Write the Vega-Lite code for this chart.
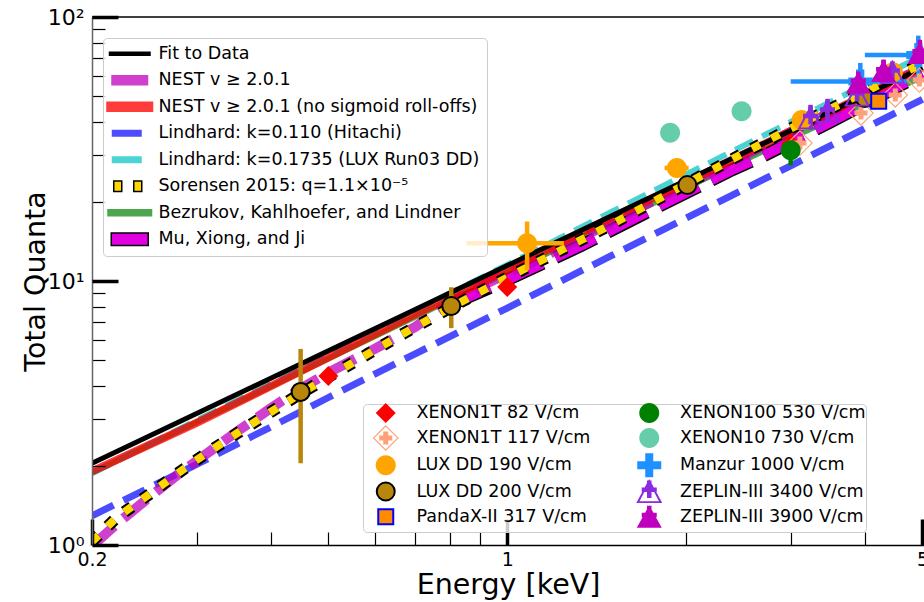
{
  "$schema": "https://vega.github.io/schema/vega-lite/v6.json",
  "width": 832,
  "height": 528,
  "autosize": {"type": "none"},
  "padding": {"left": 92, "top": 17, "right": 0, "bottom": 57},
  "background": "white",
  "config": {"font": "DejaVu Sans", "view": {"stroke": null}},
  "datasets": {
    "curves": [
      {"series": "Fit to Data", "E": 0.2, "Q": 2.04}, {"series": "Fit to Data", "E": 0.3, "Q": 3.15}, {"series": "Fit to Data", "E": 0.5, "Q": 5.44}, {"series": "Fit to Data", "E": 0.7, "Q": 7.8}, {"series": "Fit to Data", "E": 1, "Q": 11.44}, {"series": "Fit to Data", "E": 1.5, "Q": 17.67}, {"series": "Fit to Data", "E": 2, "Q": 24.05}, {"series": "Fit to Data", "E": 3, "Q": 37.1}, {"series": "Fit to Data", "E": 4, "Q": 50.6}, {"series": "Fit to Data", "E": 5, "Q": 64.2},
      {"series": "NEST v ≥ 2.0.1 (no sigmoid roll-offs)", "E": 0.2, "Q": 1.9}, {"series": "NEST v ≥ 2.0.1 (no sigmoid roll-offs)", "E": 0.3, "Q": 2.9}, {"series": "NEST v ≥ 2.0.1 (no sigmoid roll-offs)", "E": 0.5, "Q": 5.13}, {"series": "NEST v ≥ 2.0.1 (no sigmoid roll-offs)", "E": 0.7, "Q": 7.48}, {"series": "NEST v ≥ 2.0.1 (no sigmoid roll-offs)", "E": 1, "Q": 11.0}, {"series": "NEST v ≥ 2.0.1 (no sigmoid roll-offs)", "E": 1.5, "Q": 17.4}, {"series": "NEST v ≥ 2.0.1 (no sigmoid roll-offs)", "E": 2, "Q": 23.6}, {"series": "NEST v ≥ 2.0.1 (no sigmoid roll-offs)", "E": 3, "Q": 37.0}, {"series": "NEST v ≥ 2.0.1 (no sigmoid roll-offs)", "E": 4, "Q": 50.5}, {"series": "NEST v ≥ 2.0.1 (no sigmoid roll-offs)", "E": 5, "Q": 64.4},
      {"series": "NEST v ≥ 2.0.1", "E": 0.2, "Q": 0.99}, {"series": "NEST v ≥ 2.0.1", "E": 0.22, "Q": 1.2}, {"series": "NEST v ≥ 2.0.1", "E": 0.25, "Q": 1.52}, {"series": "NEST v ≥ 2.0.1", "E": 0.28, "Q": 1.86}, {"series": "NEST v ≥ 2.0.1", "E": 0.3, "Q": 2.08}, {"series": "NEST v ≥ 2.0.1", "E": 0.35, "Q": 2.68}, {"series": "NEST v ≥ 2.0.1", "E": 0.4, "Q": 3.3}, {"series": "NEST v ≥ 2.0.1", "E": 0.45, "Q": 3.92}, {"series": "NEST v ≥ 2.0.1", "E": 0.5, "Q": 4.5}, {"series": "NEST v ≥ 2.0.1", "E": 0.6, "Q": 5.55}, {"series": "NEST v ≥ 2.0.1", "E": 0.7, "Q": 6.7}, {"series": "NEST v ≥ 2.0.1", "E": 0.8, "Q": 8.25}, {"series": "NEST v ≥ 2.0.1", "E": 0.9, "Q": 9.5}, {"series": "NEST v ≥ 2.0.1", "E": 1, "Q": 10.7}, {"series": "NEST v ≥ 2.0.1", "E": 1.25, "Q": 13.5}, {"series": "NEST v ≥ 2.0.1", "E": 1.5, "Q": 16.8}, {"series": "NEST v ≥ 2.0.1", "E": 2, "Q": 23.2}, {"series": "NEST v ≥ 2.0.1", "E": 3, "Q": 36.7}, {"series": "NEST v ≥ 2.0.1", "E": 4, "Q": 50.3}, {"series": "NEST v ≥ 2.0.1", "E": 5, "Q": 64.3},
      {"series": "Lindhard: k=0.110 (Hitachi)", "E": 0.2, "Q": 1.29}, {"series": "Lindhard: k=0.110 (Hitachi)", "E": 0.3, "Q": 2.02}, {"series": "Lindhard: k=0.110 (Hitachi)", "E": 0.4, "Q": 2.8}, {"series": "Lindhard: k=0.110 (Hitachi)", "E": 0.5, "Q": 3.62}, {"series": "Lindhard: k=0.110 (Hitachi)", "E": 0.7, "Q": 5.3}, {"series": "Lindhard: k=0.110 (Hitachi)", "E": 1, "Q": 7.9}, {"series": "Lindhard: k=0.110 (Hitachi)", "E": 1.5, "Q": 12.5}, {"series": "Lindhard: k=0.110 (Hitachi)", "E": 2, "Q": 17.3}, {"series": "Lindhard: k=0.110 (Hitachi)", "E": 3, "Q": 27.3}, {"series": "Lindhard: k=0.110 (Hitachi)", "E": 4, "Q": 37.9}, {"series": "Lindhard: k=0.110 (Hitachi)", "E": 5, "Q": 48.8},
      {"series": "Lindhard: k=0.1735 (LUX Run03 DD)", "E": 0.2, "Q": 1.87}, {"series": "Lindhard: k=0.1735 (LUX Run03 DD)", "E": 0.3, "Q": 2.96}, {"series": "Lindhard: k=0.1735 (LUX Run03 DD)", "E": 0.5, "Q": 5.27}, {"series": "Lindhard: k=0.1735 (LUX Run03 DD)", "E": 0.7, "Q": 7.72}, {"series": "Lindhard: k=0.1735 (LUX Run03 DD)", "E": 1, "Q": 11.5}, {"series": "Lindhard: k=0.1735 (LUX Run03 DD)", "E": 1.5, "Q": 18.3}, {"series": "Lindhard: k=0.1735 (LUX Run03 DD)", "E": 2, "Q": 25.3}, {"series": "Lindhard: k=0.1735 (LUX Run03 DD)", "E": 3, "Q": 40.0}, {"series": "Lindhard: k=0.1735 (LUX Run03 DD)", "E": 4, "Q": 55.4}, {"series": "Lindhard: k=0.1735 (LUX Run03 DD)", "E": 5, "Q": 71.3},
      {"series": "Sorensen 2015: q=1.1×10⁻⁵", "E": 0.2, "Q": 1.03}, {"series": "Sorensen 2015: q=1.1×10⁻⁵", "E": 0.22, "Q": 1.27}, {"series": "Sorensen 2015: q=1.1×10⁻⁵", "E": 0.25, "Q": 1.56}, {"series": "Sorensen 2015: q=1.1×10⁻⁵", "E": 0.28, "Q": 1.88}, {"series": "Sorensen 2015: q=1.1×10⁻⁵", "E": 0.3, "Q": 2.1}, {"series": "Sorensen 2015: q=1.1×10⁻⁵", "E": 0.35, "Q": 2.64}, {"series": "Sorensen 2015: q=1.1×10⁻⁵", "E": 0.4, "Q": 3.19}, {"series": "Sorensen 2015: q=1.1×10⁻⁵", "E": 0.45, "Q": 3.76}, {"series": "Sorensen 2015: q=1.1×10⁻⁵", "E": 0.5, "Q": 4.33}, {"series": "Sorensen 2015: q=1.1×10⁻⁵", "E": 0.6, "Q": 5.5}, {"series": "Sorensen 2015: q=1.1×10⁻⁵", "E": 0.7, "Q": 6.7}, {"series": "Sorensen 2015: q=1.1×10⁻⁵", "E": 0.8, "Q": 7.9}, {"series": "Sorensen 2015: q=1.1×10⁻⁵", "E": 1, "Q": 10.3}, {"series": "Sorensen 2015: q=1.1×10⁻⁵", "E": 1.25, "Q": 13.3}, {"series": "Sorensen 2015: q=1.1×10⁻⁵", "E": 1.5, "Q": 16.4}, {"series": "Sorensen 2015: q=1.1×10⁻⁵", "E": 2, "Q": 23.3}, {"series": "Sorensen 2015: q=1.1×10⁻⁵", "E": 2.5, "Q": 30.5}, {"series": "Sorensen 2015: q=1.1×10⁻⁵", "E": 3, "Q": 37.8}, {"series": "Sorensen 2015: q=1.1×10⁻⁵", "E": 4, "Q": 52.0}, {"series": "Sorensen 2015: q=1.1×10⁻⁵", "E": 5, "Q": 66.8},
      {"series": "Bezrukov, Kahlhoefer, and Lindner", "E": 0.2, "Q": 1.88}, {"series": "Bezrukov, Kahlhoefer, and Lindner", "E": 0.5, "Q": 5.08}, {"series": "Bezrukov, Kahlhoefer, and Lindner", "E": 1, "Q": 10.8}, {"series": "Bezrukov, Kahlhoefer, and Lindner", "E": 2, "Q": 22.6}, {"series": "Bezrukov, Kahlhoefer, and Lindner", "E": 3, "Q": 34.8}, {"series": "Bezrukov, Kahlhoefer, and Lindner", "E": 4, "Q": 47.0}, {"series": "Bezrukov, Kahlhoefer, and Lindner", "E": 5, "Q": 59.5},
      {"series": "Mu, Xiong, and Ji", "E": 0.8, "Q": 8.1}, {"series": "Mu, Xiong, and Ji", "E": 1, "Q": 10.1}, {"series": "Mu, Xiong, and Ji", "E": 1.33, "Q": 13.6}, {"series": "Mu, Xiong, and Ji", "E": 1.7, "Q": 18.0}, {"series": "Mu, Xiong, and Ji", "E": 2.36, "Q": 26.0}, {"series": "Mu, Xiong, and Ji", "E": 2.7, "Q": 29.8}, {"series": "Mu, Xiong, and Ji", "E": 3.5, "Q": 40.0}, {"series": "Mu, Xiong, and Ji", "E": 4.36, "Q": 52.0}, {"series": "Mu, Xiong, and Ji", "E": 5, "Q": 61.0}
    ],
    "points": [
      {"dataset": "XENON1T 82 V/cm", "E": 0.5, "Q": 4.37},
      {"dataset": "XENON1T 82 V/cm", "E": 1.0, "Q": 9.49},
      {"dataset": "XENON1T 82 V/cm", "E": 3.0, "Q": 33.0},
      {"dataset": "XENON1T 117 V/cm", "E": 3.11, "Q": 33.3},
      {"dataset": "XENON1T 117 V/cm", "E": 3.94, "Q": 43.3},
      {"dataset": "XENON1T 117 V/cm", "E": 4.5, "Q": 50.7},
      {"dataset": "XENON1T 117 V/cm", "E": 4.94, "Q": 57.7},
      {"dataset": "LUX DD 190 V/cm", "E": 1.08, "Q": 13.9, "Elo": 0.854, "Ehi": 1.246, "Qlo": 11.0, "Qhi": 16.8},
      {"dataset": "LUX DD 190 V/cm", "E": 1.93, "Q": 26.8, "Elo": 1.84, "Ehi": 2.02},
      {"dataset": "LUX DD 190 V/cm", "E": 3.13, "Q": 40.7},
      {"dataset": "LUX DD 190 V/cm", "E": 4.46, "Q": 61.8},
      {"dataset": "LUX DD 200 V/cm", "E": 0.449, "Q": 3.8, "Qlo": 2.04, "Qhi": 5.53},
      {"dataset": "LUX DD 200 V/cm", "E": 0.805, "Q": 8.04, "Qlo": 6.63, "Qhi": 9.47},
      {"dataset": "LUX DD 200 V/cm", "E": 2.01, "Q": 23.1},
      {"dataset": "LUX DD 200 V/cm", "E": 4.0, "Q": 49.3},
      {"dataset": "PandaX-II 317 V/cm", "E": 4.22, "Q": 48.0},
      {"dataset": "XENON100 530 V/cm", "E": 3.0, "Q": 31.3, "Qlo": 27.4, "Qhi": 35.7},
      {"dataset": "XENON10 730 V/cm", "E": 1.88, "Q": 36.4},
      {"dataset": "XENON10 730 V/cm", "E": 2.48, "Q": 44.0},
      {"dataset": "Manzur 1000 V/cm", "E": 3.93, "Q": 57.0, "Elo": 3.0, "Ehi": 4.7, "Qlo": 48.0, "Qhi": 67.0},
      {"dataset": "Manzur 1000 V/cm", "E": 4.92, "Q": 71.8, "Elo": 4.0, "Ehi": 6.0, "Qlo": 56.0, "Qhi": 85.0},
      {"dataset": "ZEPLIN-III 3400 V/cm", "E": 3.24, "Q": 41.5, "Qlo": 37.5, "Qhi": 46.5},
      {"dataset": "ZEPLIN-III 3400 V/cm", "E": 3.46, "Q": 44.0, "Qlo": 40.0, "Qhi": 49.0},
      {"dataset": "ZEPLIN-III 3400 V/cm", "E": 3.88, "Q": 50.7},
      {"dataset": "ZEPLIN-III 3400 V/cm", "E": 4.45, "Q": 61.8},
      {"dataset": "ZEPLIN-III 3900 V/cm", "E": 3.9, "Q": 56.5, "Qlo": 50.0, "Qhi": 63.0},
      {"dataset": "ZEPLIN-III 3900 V/cm", "E": 4.3, "Q": 62.5, "Qlo": 56.0, "Qhi": 69.0},
      {"dataset": "ZEPLIN-III 3900 V/cm", "E": 4.95, "Q": 73.0, "Qlo": 65.0, "Qhi": 82.0}
    ]
  },
  "layer": [
    {
      "data": {"name": "curves"},
      "transform": [{"filter": {"field": "series", "equal": "Bezrukov, Kahlhoefer, and Lindner"}}],
      "mark": {"type": "line", "clip": true, "color": "#008000", "opacity": 0.7, "strokeWidth": 6},
      "encoding": {
        "x": {"field": "E", "type": "quantitative", "scale": {"type": "log", "domain": [0.2, 5.03], "nice": false},
          "axis": {
            "orient": "bottom",
            "values": [0.3, 0.4, 0.5, 0.6, 0.7, 0.8, 0.9, 2, 3, 4],
            "labels": false,
            "tickSize": -13, "tickWidth": 1.2, "tickColor": "black",
            "domainColor": "black", "domainWidth": 1.5, "grid": false,
            "title": "Energy [keV]", "titleFontSize": 28.5, "titleFontWeight": "normal", "titleColor": "black", "titlePadding": 25,
            "zindex": 1
          }},
        "y": {"field": "Q", "type": "quantitative", "scale": {"type": "log", "domain": [1, 100], "nice": false},
          "axis": {
            "orient": "left",
            "values": [2, 3, 4, 5, 6, 7, 8, 9, 20, 30, 40, 50, 60, 70, 80, 90],
            "labels": false,
            "tickSize": -13, "tickWidth": 1.2, "tickColor": "black",
            "domainColor": "#666666", "domainWidth": 1.5, "grid": false,
            "title": "Total Quanta", "titleFontSize": 28.5, "titleFontWeight": "normal", "titleColor": "black", "titlePadding": 41,
            "zindex": 1
          }}
      }
    },
    {
      "data": {"name": "curves"},
      "transform": [{"filter": {"field": "series", "equal": "Lindhard: k=0.110 (Hitachi)"}}],
      "mark": {"type": "line", "clip": true, "color": "#0000ff", "opacity": 0.7, "strokeWidth": 7, "strokeDash": [24, 11]},
      "encoding": {
        "x": {"field": "E", "type": "quantitative", "scale": {"type": "log", "domain": [0.2, 5.03], "nice": false},
          "axis": {
            "orient": "bottom",
            "values": [0.2, 1, 5],
            "labelExpr": "datum.value == 0.2 ? '0.2' : datum.value == 1 ? '1' : '5'",
            "tickSize": -26, "tickWidth": 3.5, "tickColor": "black",
            "labelPadding": 31, "labelFontSize": 19, "labelColor": "black", "labelFlush": false, "labelOverlap": false,
            "domain": false, "grid": false, "title": null,
            "zindex": 1
          }},
        "y": {"field": "Q", "type": "quantitative", "scale": {"type": "log", "domain": [1, 100], "nice": false},
          "axis": {
            "orient": "left",
            "values": [1, 10, 100],
            "labelExpr": "datum.value == 100 ? '10²' : datum.value == 10 ? '10¹' : '10⁰'",
            "tickSize": -26, "tickWidth": 3.5, "tickColor": "black",
            "labelPadding": 34, "labelFontSize": 22, "labelColor": "black", "labelFlush": false, "labelOverlap": false,
            "domain": false, "grid": false, "title": null,
            "zindex": 1
          }}
      }
    },
    {
      "data": {"name": "curves"},
      "transform": [{"filter": {"field": "series", "equal": "Lindhard: k=0.1735 (LUX Run03 DD)"}}],
      "mark": {"type": "line", "clip": true, "color": "#00bfbf", "opacity": 0.7, "strokeWidth": 6, "strokeDash": [20, 10]},
      "encoding": {
        "x": {"field": "E", "type": "quantitative", "scale": {"type": "log", "domain": [0.2, 5.03], "nice": false}, "axis": null},
        "y": {"field": "Q", "type": "quantitative", "scale": {"type": "log", "domain": [1, 100], "nice": false}, "axis": null}
      }
    },
    {
      "data": {"name": "curves"},
      "transform": [{"filter": {"field": "series", "equal": "Mu, Xiong, and Ji"}}],
      "mark": {"type": "line", "clip": true, "color": "#000000", "strokeWidth": 13, "strokeDash": [44, 14]},
      "encoding": {
        "x": {"field": "E", "type": "quantitative", "scale": {"type": "log", "domain": [0.2, 5.03], "nice": false}, "axis": null},
        "y": {"field": "Q", "type": "quantitative", "scale": {"type": "log", "domain": [1, 100], "nice": false}, "axis": null}
      }
    },
    {
      "data": {"name": "curves"},
      "transform": [{"filter": {"field": "series", "equal": "Mu, Xiong, and Ji"}}],
      "mark": {"type": "line", "clip": true, "color": "#e000e0", "strokeWidth": 10, "strokeDash": [44, 14]},
      "encoding": {
        "x": {"field": "E", "type": "quantitative", "scale": {"type": "log", "domain": [0.2, 5.03], "nice": false}, "axis": null},
        "y": {"field": "Q", "type": "quantitative", "scale": {"type": "log", "domain": [1, 100], "nice": false}, "axis": null}
      }
    },
    {
      "data": {"name": "curves"},
      "transform": [{"filter": {"field": "series", "equal": "NEST v ≥ 2.0.1"}}],
      "mark": {"type": "line", "clip": true, "color": "#bf00bf", "opacity": 0.75, "strokeWidth": 10, "strokeDash": [30, 12]},
      "encoding": {
        "x": {"field": "E", "type": "quantitative", "scale": {"type": "log", "domain": [0.2, 5.03], "nice": false}, "axis": null},
        "y": {"field": "Q", "type": "quantitative", "scale": {"type": "log", "domain": [1, 100], "nice": false}, "axis": null}
      }
    },
    {
      "data": {"name": "curves"},
      "transform": [{"filter": {"field": "series", "equal": "NEST v ≥ 2.0.1 (no sigmoid roll-offs)"}}],
      "mark": {"type": "line", "clip": true, "color": "#ff0000", "opacity": 0.77, "strokeWidth": 8},
      "encoding": {
        "x": {"field": "E", "type": "quantitative", "scale": {"type": "log", "domain": [0.2, 5.03], "nice": false}, "axis": null},
        "y": {"field": "Q", "type": "quantitative", "scale": {"type": "log", "domain": [1, 100], "nice": false}, "axis": null}
      }
    },
    {
      "data": {"name": "curves"},
      "transform": [{"filter": {"field": "series", "equal": "Fit to Data"}}],
      "mark": {"type": "line", "clip": true, "color": "#000000", "strokeWidth": 5},
      "encoding": {
        "x": {"field": "E", "type": "quantitative", "scale": {"type": "log", "domain": [0.2, 5.03], "nice": false}, "axis": null},
        "y": {"field": "Q", "type": "quantitative", "scale": {"type": "log", "domain": [1, 100], "nice": false}, "axis": null}
      }
    },
    {
      "data": {"name": "curves"},
      "transform": [{"filter": {"field": "series", "equal": "Sorensen 2015: q=1.1×10⁻⁵"}}],
      "mark": {"type": "line", "clip": true, "color": "#000000", "strokeWidth": 12, "strokeDash": [9, 13]},
      "encoding": {
        "x": {"field": "E", "type": "quantitative", "scale": {"type": "log", "domain": [0.2, 5.03], "nice": false}, "axis": null},
        "y": {"field": "Q", "type": "quantitative", "scale": {"type": "log", "domain": [1, 100], "nice": false}, "axis": null}
      }
    },
    {
      "data": {"name": "curves"},
      "transform": [{"filter": {"field": "series", "equal": "Sorensen 2015: q=1.1×10⁻⁵"}}],
      "mark": {"type": "line", "clip": true, "color": "#ffd700", "strokeWidth": 8, "strokeDash": [9, 13]},
      "encoding": {
        "x": {"field": "E", "type": "quantitative", "scale": {"type": "log", "domain": [0.2, 5.03], "nice": false}, "axis": null},
        "y": {"field": "Q", "type": "quantitative", "scale": {"type": "log", "domain": [1, 100], "nice": false}, "axis": null}
      }
    },
    {
      "data": {"values": [{"Q": 100}]},
      "mark": {"type": "rule", "color": "#000000", "strokeWidth": 1.5},
      "encoding": {
        "y": {"field": "Q", "type": "quantitative", "scale": {"type": "log", "domain": [1, 100], "nice": false}, "axis": null}
      }
    },
    {
      "data": {"name": "points"},
      "transform": [{"filter": "isValid(datum.Qlo)"}],
      "mark": {"type": "rule", "clip": true, "strokeWidth": 4.5},
      "encoding": {
        "x": {"field": "E", "type": "quantitative", "scale": {"type": "log", "domain": [0.2, 5.03], "nice": false}, "axis": null},
        "y": {"field": "Qlo", "type": "quantitative", "scale": {"type": "log", "domain": [1, 100], "nice": false}, "axis": null},
        "y2": {"field": "Qhi"},
        "color": {"field": "dataset", "type": "nominal", "legend": null,
          "scale": {"domain": ["XENON1T 82 V/cm", "XENON1T 117 V/cm", "LUX DD 190 V/cm", "LUX DD 200 V/cm", "PandaX-II 317 V/cm", "XENON100 530 V/cm", "XENON10 730 V/cm", "Manzur 1000 V/cm", "ZEPLIN-III 3400 V/cm", "ZEPLIN-III 3900 V/cm"],
                    "range": ["#ff0000", "#ffa07a", "#ffa500", "#b8860b", "#0000ff", "#008000", "#66cdaa", "#1e90ff", "#8a2be2", "#bf00bf"]}}
      }
    },
    {
      "data": {"name": "points"},
      "transform": [{"filter": "isValid(datum.Elo)"}],
      "mark": {"type": "rule", "clip": true, "strokeWidth": 4.5},
      "encoding": {
        "x": {"field": "Elo", "type": "quantitative", "scale": {"type": "log", "domain": [0.2, 5.03], "nice": false}, "axis": null},
        "x2": {"field": "Ehi"},
        "y": {"field": "Q", "type": "quantitative", "scale": {"type": "log", "domain": [1, 100], "nice": false}, "axis": null},
        "color": {"field": "dataset", "type": "nominal", "legend": null,
          "scale": {"domain": ["XENON1T 82 V/cm", "XENON1T 117 V/cm", "LUX DD 190 V/cm", "LUX DD 200 V/cm", "PandaX-II 317 V/cm", "XENON100 530 V/cm", "XENON10 730 V/cm", "Manzur 1000 V/cm", "ZEPLIN-III 3400 V/cm", "ZEPLIN-III 3900 V/cm"],
                    "range": ["#ff0000", "#ffa07a", "#ffa500", "#b8860b", "#0000ff", "#008000", "#66cdaa", "#1e90ff", "#8a2be2", "#bf00bf"]}}
      }
    },
    {
      "data": {"name": "points"},
      "mark": {"type": "point", "clip": true, "filled": true, "opacity": 1, "size": 100, "strokeWidth": 2},
      "encoding": {
        "x": {"field": "E", "type": "quantitative", "scale": {"type": "log", "domain": [0.2, 5.03], "nice": false}, "axis": null},
        "y": {"field": "Q", "type": "quantitative", "scale": {"type": "log", "domain": [1, 100], "nice": false}, "axis": null},
        "fill": {"field": "dataset", "type": "nominal",
          "scale": {"domain": ["XENON1T 82 V/cm", "XENON1T 117 V/cm", "LUX DD 190 V/cm", "LUX DD 200 V/cm", "PandaX-II 317 V/cm", "XENON100 530 V/cm", "XENON10 730 V/cm", "Manzur 1000 V/cm", "ZEPLIN-III 3400 V/cm", "ZEPLIN-III 3900 V/cm"],
                    "range": ["#ff0000", "#ffa07a", "#ffa500", "#b8860b", "#ff8c00", "#008000", "#66cdaa", "#1e90ff", "#8a2be2", "#bf00bf"]},
          "legend": {"orient": "none", "legendX": 271, "legendY": 387, "title": null, "columns": 2, "columnPadding": 35.5,
            "symbolSize": 100, "symbolStrokeWidth": 2, "symbolOffset": 14, "labelOffset": 22,
            "labelFontSize": 17.5, "labelColor": "black", "labelLimit": 400, "rowPadding": -6.75, "padding": 0,
            "fillColor": "rgba(255,255,255,0.8)", "strokeColor": "#cccccc", "cornerRadius": 4, "zindex": 2}},
        "stroke": {"field": "dataset", "type": "nominal",
          "scale": {"domain": ["XENON1T 82 V/cm", "XENON1T 117 V/cm", "LUX DD 190 V/cm", "LUX DD 200 V/cm", "PandaX-II 317 V/cm", "XENON100 530 V/cm", "XENON10 730 V/cm", "Manzur 1000 V/cm", "ZEPLIN-III 3400 V/cm", "ZEPLIN-III 3900 V/cm"],
                    "range": ["transparent", "transparent", "transparent", "#000000", "#0000ff", "transparent", "transparent", "transparent", "transparent", "transparent"]},
          "legend": {"orient": "none", "legendX": 271, "legendY": 387, "title": null, "columns": 2, "columnPadding": 35.5,
            "symbolSize": 100, "symbolStrokeWidth": 2, "symbolOffset": 14, "labelOffset": 22,
            "labelFontSize": 17.5, "labelColor": "black", "labelLimit": 400, "rowPadding": -6.75, "padding": 0,
            "fillColor": "rgba(255,255,255,0.8)", "strokeColor": "#cccccc", "cornerRadius": 4, "zindex": 2}},
        "shape": {"field": "dataset", "type": "nominal",
          "scale": {"domain": ["XENON1T 82 V/cm", "XENON1T 117 V/cm", "LUX DD 190 V/cm", "LUX DD 200 V/cm", "PandaX-II 317 V/cm", "XENON100 530 V/cm", "XENON10 730 V/cm", "Manzur 1000 V/cm", "ZEPLIN-III 3400 V/cm", "ZEPLIN-III 3900 V/cm"],
                    "range": [
                      "M0,-2L2,0L0,2L-2,0Z",
                      "M0,-2.6L2.6,0L0,2.6L-2.6,0Z M0,-2.27L-2.27,0L0,2.27L2.27,0Z M-1.3,-0.5H1.3V0.5H-1.3Z M-0.5,-1.3H0.5V1.3H-0.5Z",
                      "M-2,0A2,2,0,1,1,2,0A2,2,0,1,1,-2,0Z",
                      "M-1.8,0A1.8,1.8,0,1,1,1.8,0A1.8,1.8,0,1,1,-1.8,0Z",
                      "M-1.5,-1.5H1.5V1.5H-1.5Z",
                      "M-2,0A2,2,0,1,1,2,0A2,2,0,1,1,-2,0Z",
                      "M-2,0A2,2,0,1,1,2,0A2,2,0,1,1,-2,0Z",
                      "M-2.4,-0.8H2.4V0.8H-2.4Z M-0.8,-2.4H0.8V2.4H-0.8Z",
                      "M0,-2.5L2.6,2.3H-2.6Z M0,-1.75L-1.95,1.95H1.95Z M-1.5,-0.8H1.5V0.1H-1.5Z M-0.45,-2.2H0.45V1.3H-0.45Z",
                      "M0,-2.3L2.5,2.2H-2.5Z M-1.5,-0.8H1.5V0.1H-1.5Z M-0.45,-2.2H0.45V1.3H-0.45Z"
                    ]},
          "legend": {"orient": "none", "legendX": 271, "legendY": 387, "title": null, "columns": 2, "columnPadding": 35.5,
            "symbolSize": 100, "symbolStrokeWidth": 2, "symbolOffset": 14, "labelOffset": 22,
            "labelFontSize": 17.5, "labelColor": "black", "labelLimit": 400, "rowPadding": -6.75, "padding": 0,
            "fillColor": "rgba(255,255,255,0.8)", "strokeColor": "#cccccc", "cornerRadius": 4, "zindex": 2}}
      }
    },
    {
      "data": {"name": "curves"},
      "transform": [{"filter": "false"}],
      "mark": {"type": "point", "filled": true, "opacity": 1, "size": 100, "strokeWidth": 1.5},
      "encoding": {
        "fill": {"field": "series", "type": "nominal",
          "scale": {"domain": ["Fit to Data", "NEST v ≥ 2.0.1", "NEST v ≥ 2.0.1 (no sigmoid roll-offs)", "Lindhard: k=0.110 (Hitachi)", "Lindhard: k=0.1735 (LUX Run03 DD)", "Sorensen 2015: q=1.1×10⁻⁵", "Bezrukov, Kahlhoefer, and Lindner", "Mu, Xiong, and Ji"],
                    "range": ["#000000", "#cf40cf", "#ff3b3b", "#4d4dff", "#4dd3d3", "#ffd700", "#4da64d", "#e000e0"]},
          "legend": {"orient": "none", "legendX": 11, "legendY": 21, "title": null,
            "symbolSize": 100, "symbolStrokeWidth": 1.5, "symbolOffset": 11, "labelOffset": 20,
            "labelFontSize": 17.5, "labelColor": "black", "labelLimit": 500, "rowPadding": 7.5, "padding": 7,
            "fillColor": "rgba(255,255,255,0.8)", "strokeColor": "#cccccc", "cornerRadius": 4, "zindex": 2}},
        "stroke": {"field": "series", "type": "nominal",
          "scale": {"domain": ["Fit to Data", "NEST v ≥ 2.0.1", "NEST v ≥ 2.0.1 (no sigmoid roll-offs)", "Lindhard: k=0.110 (Hitachi)", "Lindhard: k=0.1735 (LUX Run03 DD)", "Sorensen 2015: q=1.1×10⁻⁵", "Bezrukov, Kahlhoefer, and Lindner", "Mu, Xiong, and Ji"],
                    "range": ["transparent", "transparent", "transparent", "transparent", "transparent", "#000000", "transparent", "#000000"]},
          "legend": {"orient": "none", "legendX": 11, "legendY": 21, "title": null,
            "symbolSize": 100, "symbolStrokeWidth": 1.5, "symbolOffset": 11, "labelOffset": 20,
            "labelFontSize": 17.5, "labelColor": "black", "labelLimit": 500, "rowPadding": 7.5, "padding": 7,
            "fillColor": "rgba(255,255,255,0.8)", "strokeColor": "#cccccc", "cornerRadius": 4, "zindex": 2}},
        "shape": {"field": "series", "type": "nominal",
          "scale": {"domain": ["Fit to Data", "NEST v ≥ 2.0.1", "NEST v ≥ 2.0.1 (no sigmoid roll-offs)", "Lindhard: k=0.110 (Hitachi)", "Lindhard: k=0.1735 (LUX Run03 DD)", "Sorensen 2015: q=1.1×10⁻⁵", "Bezrukov, Kahlhoefer, and Lindner", "Mu, Xiong, and Ji"],
                    "range": [
                      "M-4.2,-0.45H4.2V0.45H-4.2Z",
                      "M-3.7,-1.05H3.7V1.05H-3.7Z",
                      "M-4.7,-1.05H4.7V1.05H-4.7Z",
                      "M-3.6,-0.7H2.4V0.7H-3.6Z",
                      "M-3.6,-0.7H2.4V0.7H-3.6Z",
                      "M-3.2,-1.05H-1.6V1.05H-3.2Z M0.8,-1.05H2.4V1.05H0.8Z",
                      "M-4.5,-0.75H4.5V0.75H-4.5Z",
                      "M-3.7,-1.25H3.7V1.25H-3.7Z"
                    ]},
          "legend": {"orient": "none", "legendX": 11, "legendY": 21, "title": null,
            "symbolSize": 100, "symbolStrokeWidth": 1.5, "symbolOffset": 11, "labelOffset": 20,
            "labelFontSize": 17.5, "labelColor": "black", "labelLimit": 500, "rowPadding": 7.5, "padding": 7,
            "fillColor": "rgba(255,255,255,0.8)", "strokeColor": "#cccccc", "cornerRadius": 4, "zindex": 2}}
      }
    }
  ],
  "resolve": {
    "scale": {"fill": "independent", "stroke": "independent", "shape": "independent"},
    "axis": {"x": "independent", "y": "independent"}
  }
}
